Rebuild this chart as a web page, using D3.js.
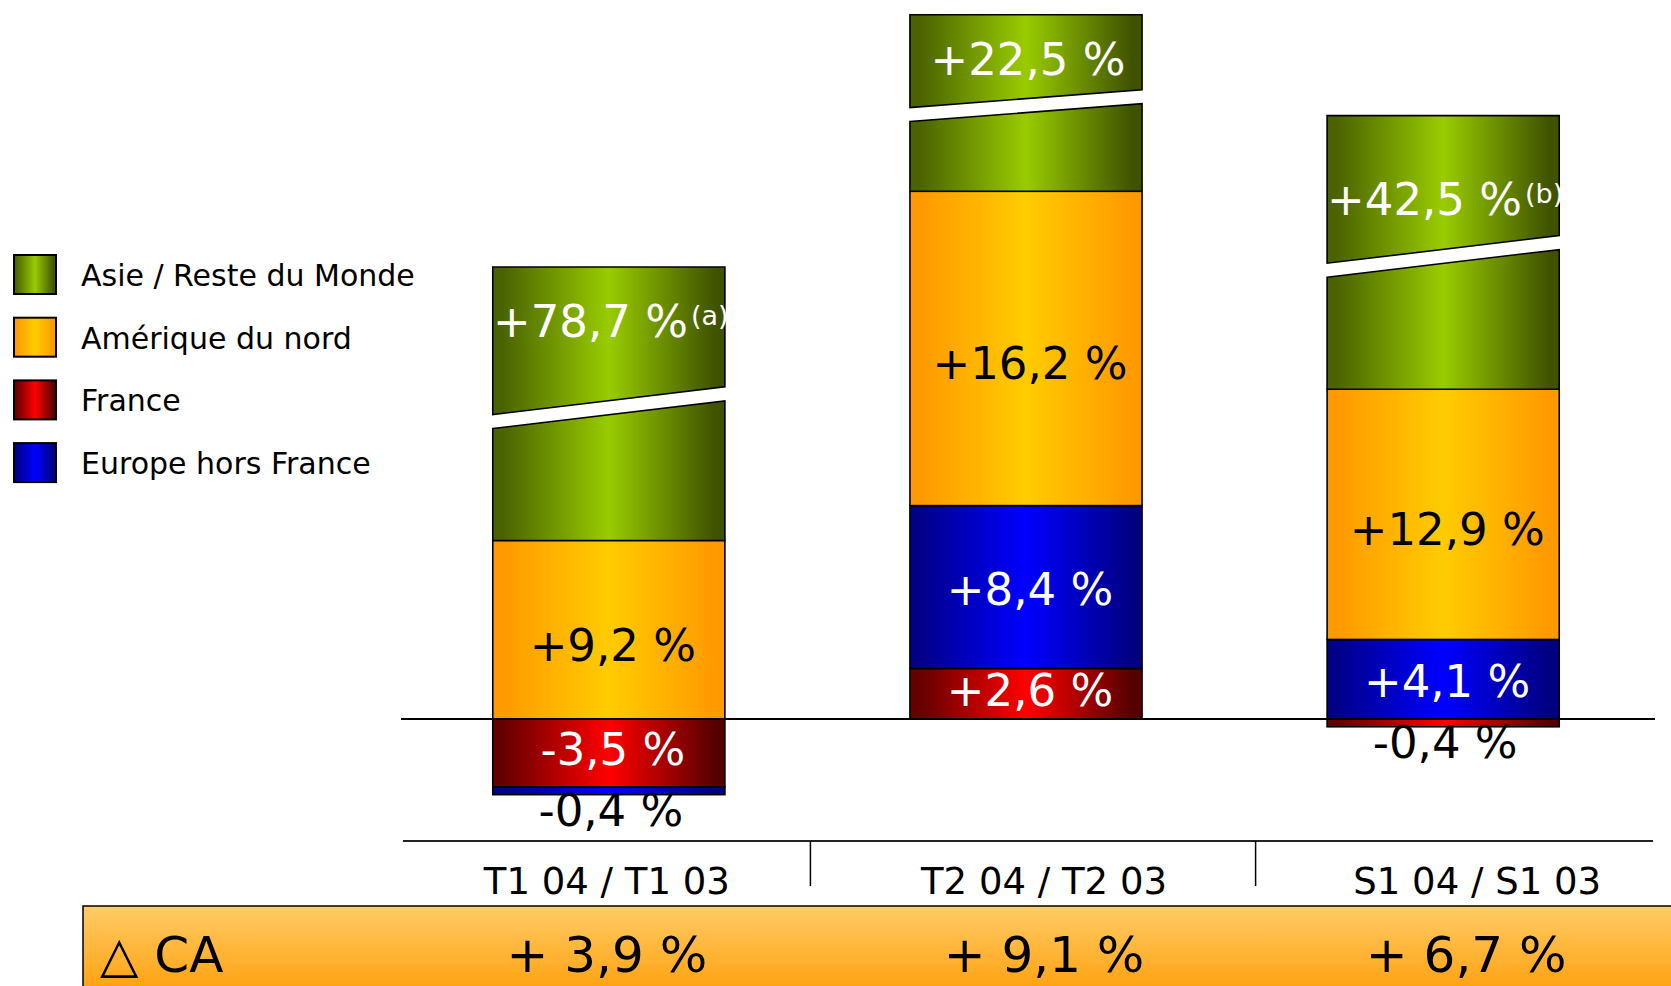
<!DOCTYPE html>
<html>
<head>
<meta charset="utf-8">
<script src="https://cdnjs.cloudflare.com/ajax/libs/d3/7.8.5/d3.min.js"></script>
<style>
  body { margin: 0; background: #fff; }
  svg { display: block; font-family: "DejaVu Sans", sans-serif; }
</style>
</head>
<body>
<svg width="1671" height="986"></svg>
<script>
var categories = ["T1 04 / T1 03", "T2 04 / T2 03", "S1 04 / S1 03"];
var keys = ["France", "Europe hors France", "Amérique du nord", "Asie / Reste du Monde"];
var legendKeys = ["Asie / Reste du Monde", "Amérique du nord", "France", "Europe hors France"];

var france   = [-3.5, 2.6, -0.4];
var europe   = [-0.4, 8.4, 4.1];
var amerique = [9.2, 16.2, 12.9];
var asie     = [78.7, 22.5, 42.5];
var asieShown = [14.1, 9.1, 14.1];   // broken bars : length drawn on the axis
var asieNotes = ["(a)", "", "(b)"];
var deltaCA  = [3.9, 9.1, 6.7];

// gradient colours : edge, centre, edge
var colors = {
  "France": ["#640000", "#ff0000", "#550000"],
  "Europe hors France": ["#000088", "#0000ff", "#000080"],
  "Amérique du nord": ["#ff9900", "#ffcc00", "#ff9900"],
  "Asie / Reste du Monde": ["#4a6300", "#99cc00", "#3f5200"]
};
var textColor = {"France": "#fff", "Europe hors France": "#fff", "Amérique du nord": "#000", "Asie / Reste du Monde": "#fff"};
var labelDy = {"France": -4, "Europe hors France": 2, "Amérique du nord": 15, "Asie / Reste du Monde": 0};
var asieLabelDy = [-13, 2, 16];
var catNudge = [-2, 18, 34];
var deltaNudge = [-2, 18, 23];
var sepNudge = [-7, 21];

var realValues = {
  "France": france, "Europe hors France": europe,
  "Amérique du nord": amerique, "Asie / Reste du Monde": asie
};

function fmt(v) {
  return (v > 0 ? "+" : "-") + Math.abs(v).toFixed(1).replace(".", ",") + " %";
}

var svg = d3.select("svg");
var defs = svg.append("defs");

keys.forEach(function(k, i) {
  var g = defs.append("linearGradient").attr("id", "grad" + i)
      .attr("x1", 0).attr("x2", 1).attr("y1", 0).attr("y2", 0);
  g.append("stop").attr("offset", "0.04").attr("stop-color", colors[k][0]);
  g.append("stop").attr("offset", "0.5").attr("stop-color", colors[k][1]);
  g.append("stop").attr("offset", "0.96").attr("stop-color", colors[k][2]);
});
var boxGrad = defs.append("linearGradient").attr("id", "boxGrad")
    .attr("x1", 0).attr("x2", 0).attr("y1", 0).attr("y2", 1);
boxGrad.append("stop").attr("offset", "0").attr("stop-color", "#ffcc66");
boxGrad.append("stop").attr("offset", "1").attr("stop-color", "#ff9900");

var rows = categories.map(function(c, i) {
  return {
    cat: c,
    "France": france[i],
    "Europe hors France": europe[i],
    "Amérique du nord": amerique[i],
    "Asie / Reste du Monde": asieShown[i]
  };
});
var stacked = d3.stack().keys(keys).offset(d3.stackOffsetDiverging)(rows);

var x = d3.scaleBand()
    .domain(categories)
    .range([401, 1651])
    .paddingInner(0.4436)
    .paddingOuter(0.22);

var y = d3.scaleLinear()
    .domain([-5, 35])
    .range([816, 40]);

var bw = x.bandwidth();
var plot = svg.append("g");

stacked.forEach(function(layer, li) {
  var k = layer.key;
  var g = plot.append("g").attr("class", "layer");

  layer.forEach(function(d, i) {
    var x0 = x(categories[i]), x1 = x0 + bw;
    var top = y(d[1]), bottom = y(d[0]), h = bottom - top;
    if (h <= 0) return;

    if (k == "Asie / Reste du Monde") {
      var l = top + 0.565 * h, r = top + 0.464 * h, gap = 7;
      var upper = [[x0, top], [x1, top], [x1, r - gap], [x0, l - gap]];
      var lower = [[x0, l + gap], [x1, r + gap], [x1, bottom], [x0, bottom]];
      [upper, lower].forEach(function(p) {
        g.append("path")
          .attr("d", "M" + p.join("L") + "Z")
          .attr("fill", "url(#grad" + li + ")")
          .attr("stroke", "#000")
          .attr("stroke-width", 1.6);
      });
      var t = g.append("text")
          .attr("x", x0 + bw / 2 + 2)
          .attr("y", top + (l + r) / 4 - top / 2 + 16 - gap / 2 + asieLabelDy[i])
          .attr("text-anchor", "middle")
          .attr("font-size", 45)
          .attr("fill", "#fff")
          .text(fmt(asie[i]));
      if (asieNotes[i]) {
        t.append("tspan").attr("dx", 3).attr("dy", -12).attr("font-size", 27).text(asieNotes[i]);
      }
      return;
    }

    g.append("rect")
      .attr("x", x0)
      .attr("y", top)
      .attr("width", bw)
      .attr("height", h)
      .attr("fill", "url(#grad" + li + ")")
      .attr("stroke", "#000")
      .attr("stroke-width", 1.6);

    var v = realValues[k][i];
    if (h < 25) {
      // thin segment : label outside, under the bar
      g.append("text")
        .attr("x", x0 + bw / 2 + 2)
        .attr("y", bottom + 31)
        .attr("text-anchor", "middle")
        .attr("font-size", 45)
        .attr("fill", "#000")
        .text(fmt(v));
    } else {
      g.append("text")
        .attr("x", x0 + bw / 2 + 4)
        .attr("y", (top + bottom) / 2 + 16 + labelDy[k])
        .attr("text-anchor", "middle")
        .attr("font-size", 45)
        .attr("fill", textColor[k])
        .text(fmt(v));
    }
  });
});

// zero line
svg.append("line")
  .attr("x1", x.range()[0]).attr("x2", x.range()[1] + 4)
  .attr("y1", y(0)).attr("y2", y(0))
  .attr("stroke", "#000").attr("stroke-width", 2);

// table under the chart
var axisY = 841;
svg.append("line")
  .attr("x1", x.range()[0] + 2).attr("x2", x.range()[1] + 2)
  .attr("y1", axisY).attr("y2", axisY)
  .attr("stroke", "#222").attr("stroke-width", 2);

for (var s = 0; s < categories.length - 1; s++) {
  var sx = (x(categories[s]) + bw + x(categories[s + 1])) / 2 + sepNudge[s];
  svg.append("line")
    .attr("x1", sx).attr("x2", sx)
    .attr("y1", axisY).attr("y2", axisY + 45)
    .attr("stroke", "#000").attr("stroke-width", 1.5);
}

svg.selectAll(".cat")
  .data(categories)
  .enter().append("text")
    .attr("class", "cat")
    .attr("x", function(d, i) { return x(d) + bw / 2 + catNudge[i]; })
    .attr("y", 894)
    .attr("text-anchor", "middle")
    .attr("font-size", 37)
    .attr("fill", "#000")
    .text(function(d) { return d; });

svg.append("rect")
  .attr("x", 83).attr("y", 906)
  .attr("width", 1620).attr("height", 100)
  .attr("fill", "url(#boxGrad)")
  .attr("stroke", "#000").attr("stroke-width", 1.5);

svg.append("text")
  .attr("x", 100).attr("y", 972)
  .attr("font-size", 50)
  .attr("fill", "#000")
  .text("\u25B3 CA");

svg.selectAll(".delta")
  .data(deltaCA)
  .enter().append("text")
    .attr("class", "delta")
    .attr("x", function(d, i) { return x(categories[i]) + bw / 2 + deltaNudge[i]; })
    .attr("y", 972)
    .attr("text-anchor", "middle")
    .attr("font-size", 50)
    .attr("fill", "#000")
    .text(function(d) { return "+ " + d.toFixed(1).replace(".", ",") + " %"; });

// legend
var legend = svg.selectAll(".legend")
  .data(legendKeys)
  .enter().append("g")
    .attr("class", "legend")
    .attr("transform", function(d, i) { return "translate(14," + (255 + i * 62.7) + ")"; });

legend.append("rect")
  .attr("width", 42)
  .attr("height", 39)
  .attr("fill", function(d) { return "url(#grad" + keys.indexOf(d) + ")"; })
  .attr("stroke", "#000")
  .attr("stroke-width", 2);

legend.append("text")
  .attr("x", 67)
  .attr("y", 31)
  .attr("font-size", 30)
  .attr("fill", "#000")
  .text(function(d) { return d; });
</script>
</body>
</html>
